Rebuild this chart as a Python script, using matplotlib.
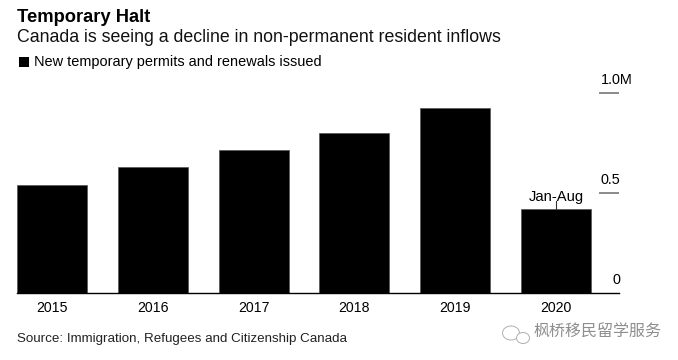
import matplotlib
matplotlib.use("Agg")
import matplotlib.pyplot as plt
from matplotlib.patches import Rectangle, Ellipse

years = ["2015", "2016", "2017", "2018", "2019", "2020"]
permits = [0.5375, 0.627, 0.712, 0.797, 0.922, 0.42]
ytick_vals = [0.5, 1.0]
ytick_labels = ["0", "0.5", "1.0M"]

W, H = 678, 360
plt.rcParams['font.family'] = ['Liberation Sans', 'DejaVu Sans']
fig = plt.figure(figsize=(W / 100, H / 100), dpi=100)
L, R, B, T = 17, 619, 292.5, 92.7
ax = fig.add_axes([L / W, 1 - B / H, (R - L) / W, (B - T) / H])
ax.set_xlim((L - 52) / 100.8, (R - 52) / 100.8)
ax.set_ylim(0, 1)
ax.patch.set_alpha(0)
for s in ax.spines.values():
    s.set_visible(False)
ax.bar(range(len(years)), permits, width=70 / 100.8, color="black", edgecolor="#555555", linewidth=0.5, zorder=2)
ax.axhline(0, color="black", lw=1.0, zorder=3, clip_on=False)
ax.set_xticks(range(len(years)), years, fontsize=10.2)
ax.tick_params(axis="x", length=0, pad=6)
ax.set_yticks([])

def px(x, y, s, **kw):
    return fig.text(x / W, 1 - y / H, s, **kw)

# right-side axis marks
for v in ytick_vals:
    ax.plot([(599 - 52) / 100.8, (619 - 52) / 100.8], [v, v], color="#8a8a8a", lw=1.4,
            solid_capstyle="butt", zorder=3, clip_on=False)
axis_lbl = dict(fontsize=10.4, va="baseline", ha="right", color="black")
px(633, 83.5, ytick_labels[2], **axis_lbl)
px(620, 183.5, ytick_labels[1], **axis_lbl)
px(620, 283.5, ytick_labels[0], **axis_lbl)

# annotation
ax.text(5, permits[5] + 0.04, "Jan-Aug", fontsize=10.6, ha="center", va="baseline", color="black", zorder=4)
ax.plot([5, 5], [permits[5], permits[5] + 0.04], color="#333333", lw=0.8, zorder=4)

# headings
px(17, 21.5, "Temporary Halt", fontsize=13.2, fontweight="bold", color="black", va="baseline")
px(17, 42, "Canada is seeing a decline in non-permanent resident inflows", fontsize=12.76, color="#111111", va="baseline")
fig.add_artist(Rectangle((19 / W, 1 - 66.5 / H), 10 / W, 10 / H, transform=fig.transFigure, color="black", lw=0))
px(34, 66, "New temporary permits and renewals issued", fontsize=10.43, color="black", va="baseline")
px(17, 342, "Source: Immigration, Refugees and Citizenship Canada", fontsize=9.63, color="#222222", va="baseline")

# watermark
for cx, cy, w, h in [(511, 333, 17, 14), (523, 338, 13, 11)]:
    fig.add_artist(Ellipse((cx / W, 1 - cy / H), w / W, h / H, transform=fig.transFigure, fc="white", ec="#b0b0b0", lw=0.7))
px(533, 337, "枫桥移民留学服务", fontsize=11.5, color="#8e8e8e", va="baseline",
   family=['Noto Sans CJK SC', 'DejaVu Sans'])

fig.savefig("out.png", dpi=100)
